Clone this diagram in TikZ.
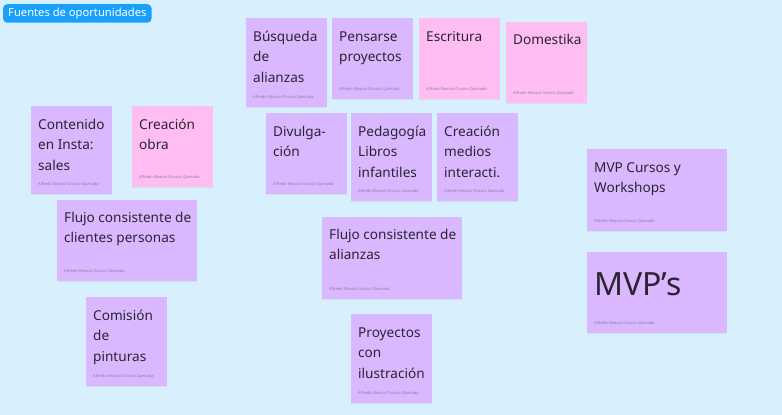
\documentclass[tikz,border=0pt]{standalone}
\usepackage{fontspec}
\setmainfont{Noto Sans}
\usetikzlibrary{shadows}

\definecolor{canvasblue}{HTML}{D8EFFD}
\definecolor{notepurple}{HTML}{D9B8FF}
\definecolor{notepink}{HTML}{FFBDF2}
\definecolor{tagblue}{HTML}{18A0FB}
\definecolor{inkdark}{HTML}{2B2433}
\definecolor{inkgray}{HTML}{8C7E9C}

\tikzset{
  note/.style={anchor=north west, inner sep=0pt, minimum width=81pt, minimum height=81pt,
    drop shadow={opacity=0.10, shadow xshift=0pt, shadow yshift=-1.2pt}},
  purplenote/.style={note, fill=notepurple},
  pinknote/.style={note, fill=notepink},
  notetext/.style={anchor=base west, inner sep=0pt, align=left, text=inkdark,
    font=\fontsize{13.6}{20.5}\selectfont},
  author/.style={anchor=base west, inner sep=0pt, text=inkgray, font=\fontsize{4}{4}\selectfont},
  tag/.style={anchor=north west, fill=tagblue, text=white, rounded corners=4pt,
    inner xsep=5pt, inner ysep=0pt, minimum height=18.5pt, font=\fontsize{11.2}{12}\selectfont},
}

\begin{document}
\begin{tikzpicture}[x=1pt, y=-1pt]
    % Canvas
    \fill[canvasblue] (0,0) rectangle (782,415);
    \useasboundingbox (0,0) rectangle (782,415);

    % Section tag
    \node[tag] (fuentes) at (3,4) {Fuentes de oportunidades};

    % Contenido en Insta (base = last line)
    \node[purplenote, minimum height=88pt] (contenido) at (31,106) {};
    \node[notetext] at ([shift={(7,64)}]contenido.north west) {Contenido\\en Insta:\\sales};
    \node[author] at ([shift={(7,-8.5)}]contenido.south west) {Alfredo Eleazar Orozco Quesada};

    % Creacion obra
    \node[pinknote] (obra) at (132,106) {};
    \node[notetext] at ([shift={(7,43.5)}]obra.north west) {Creación\\obra};
    \node[author] at ([shift={(7,-8.5)}]obra.south west) {Alfredo Eleazar Orozco Quesada};

    % Busqueda de alianzas
    \node[purplenote, minimum height=89pt] (busqueda) at (246,18) {};
    \node[notetext] at ([shift={(7,64)}]busqueda.north west) {Búsqueda\\de\\alianzas};
    \node[author] at ([shift={(7,-9)}]busqueda.south west) {Alfredo Eleazar Orozco Quesada};

    % Pensarse proyectos
    \node[purplenote] (pensarse) at (332,18) {};
    \node[notetext] at ([shift={(7,43.5)}]pensarse.north west) {Pensarse\\proyectos};
    \node[author] at ([shift={(7,-8.5)}]pensarse.south west) {Alfredo Eleazar Orozco Quesada};

    % Escritura
    \node[pinknote] (escritura) at (419,18) {};
    \node[notetext] at ([shift={(7,23)}]escritura.north west) {Escritura};
    \node[author] at ([shift={(7,-8.5)}]escritura.south west) {Alfredo Eleazar Orozco Quesada};

    % Domestika
    \node[pinknote] (domestika) at (506,22) {};
    \node[notetext] at ([shift={(7,22)}]domestika.north west) {Domestika};
    \node[author] at ([shift={(7,-8.5)}]domestika.south west) {Alfredo Eleazar Orozco Quesada};

    % Divulgacion
    \node[purplenote] (divulgacion) at (266,113) {};
    \node[notetext] at ([shift={(7,43.5)}]divulgacion.north west) {Divulga-\\ción};
    \node[author] at ([shift={(7,-8.5)}]divulgacion.south west) {Alfredo Eleazar Orozco Quesada};

    % Pedagogia
    \node[purplenote, minimum height=88pt] (pedagogia) at (351,113) {};
    \node[notetext] at ([shift={(7,64)}]pedagogia.north west) {Pedagogía\\Libros\\infantiles};
    \node[author] at ([shift={(7,-8.5)}]pedagogia.south west) {Alfredo Eleazar Orozco Quesada};

    % Creacion medios
    \node[purplenote, minimum height=88pt] (medios) at (437,113) {};
    \node[notetext] at ([shift={(7,64)}]medios.north west) {Creación\\medios\\interacti.};
    \node[author] at ([shift={(7,-8.5)}]medios.south west) {Alfredo Eleazar Orozco Quesada};

    % MVP cursos
    \node[purplenote, minimum width=140pt, minimum height=82pt] (cursos) at (587,149) {};
    \node[notetext] at ([shift={(7,43.5)}]cursos.north west) {MVP Cursos y\\Workshops};
    \node[author] at ([shift={(7,-9)}]cursos.south west) {Alfredo Eleazar Orozco Quesada};

    % MVP's
    \node[purplenote, minimum width=140pt] (mvps) at (587,252) {};
    \node[notetext, font=\fontsize{32}{36}\selectfont] at ([shift={(7,43)}]mvps.north west) {MVP’s};
    \node[author] at ([shift={(7,-8.5)}]mvps.south west) {Alfredo Eleazar Orozco Quesada};

    % Flujo clientes
    \node[purplenote, minimum width=140pt] (clientes) at (57,200) {};
    \node[notetext] at ([shift={(7,42.5)}]clientes.north west) {Flujo consistente de\\clientes personas};
    \node[author] at ([shift={(7,-8.5)}]clientes.south west) {Alfredo Eleazar Orozco Quesada};

    % Comision
    \node[purplenote, minimum height=89pt] (comision) at (86,297) {};
    \node[notetext] at ([shift={(7,64)}]comision.north west) {Comisión\\de\\pinturas};
    \node[author] at ([shift={(7,-8.5)}]comision.south west) {Alfredo Eleazar Orozco Quesada};

    % Flujo alianzas
    \node[purplenote, minimum width=140pt, minimum height=82pt] (alianzas) at (322,217) {};
    \node[notetext] at ([shift={(7,42.5)}]alianzas.north west) {Flujo consistente de\\alianzas};
    \node[author] at ([shift={(7,-9)}]alianzas.south west) {Alfredo Eleazar Orozco Quesada};

    % Proyectos ilustracion
    \node[purplenote, minimum height=89pt] (ilustracion) at (351,314) {};
    \node[notetext] at ([shift={(7,64)}]ilustracion.north west) {Proyectos\\con\\ilustración};
    \node[author] at ([shift={(7,-8.5)}]ilustracion.south west) {Alfredo Eleazar Orozco Quesada};
\end{tikzpicture}
\end{document}
